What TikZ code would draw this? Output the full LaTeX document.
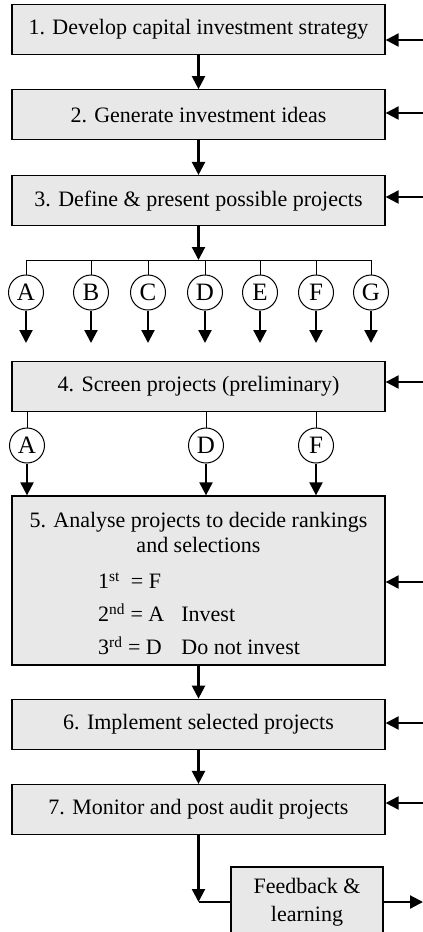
\documentclass[tikz,border=0pt]{standalone}
\usepackage{fontspec}
\setmainfont{Liberation Serif}
\usetikzlibrary{arrows.meta, positioning}
\definecolor{boxgray}{RGB}{232,232,232}
\newcommand{\chartfont}{\fontsize{22}{25}\selectfont}
\tikzset{
    stepbox/.style={rectangle, draw, line width=1.3pt, fill=boxgray, minimum width=373pt, minimum height=50pt, align=center, font=\chartfont},
    project/.style={circle, draw, line width=1pt, fill=white, minimum size=35pt, inner sep=0pt, font=\fontsize{25}{25}\selectfont},
    flow/.style={line width=2.2pt, -{Triangle[length=13pt, width=13pt]}},
    link/.style={line width=1pt}
}

\begin{document}
\begin{tikzpicture}[x=1pt, y=-1pt, node distance=34pt]
    \useasboundingbox (0,0) rectangle (423,932);
    \clip (0,0) rectangle (423,932);

    \node[stepbox] (s1) at (198.5,29.5) {1. Develop capital investment strategy};
    \node[stepbox, below=of s1] (s2) {2. Generate investment ideas};
    \node[stepbox, below=34.5pt of s2] (s3) {3. Define \& present possible projects};
    \node[stepbox] (s4) at (198.5,386.5) {4. Screen projects (preliminary)};
    \node[stepbox, minimum height=169pt] (s5) at (198.5,580.5) {};
    \node[font=\chartfont, align=center] (s5title) at (198.5,532) {5. Analyse projects to decide rankings\\and selections};
    \node[anchor=west, font=\fontsize{22}{24}\selectfont, inner sep=0pt] (ranking) at (98,615)
        {\renewcommand{\arraystretch}{1.375}%
         \begin{tabular}{@{}l@{\hspace{17pt}}l@{}}
         1\textsuperscript{st}\ \ = F & \\
         2\textsuperscript{nd} = A & Invest\\
         3\textsuperscript{rd} = D & Do not invest
         \end{tabular}};
    \node[stepbox, below=33pt of s5] (s6) {6. Implement selected projects};
    \node[stepbox, below=of s6] (s7) {7. Monitor and post audit projects};
    \node[stepbox, minimum width=152pt, minimum height=70pt, font=\fontsize{22}{28}\selectfont] (fb) at (307,902) {Feedback \&\\learning};

    % main flow
    \draw[flow] (s1) -- (s2);
    \draw[flow] (s2) -- (s3);
    \draw[flow] (s5) -- (s6);
    \draw[flow] (s6) -- (s7);

    % possible projects
    \coordinate (bus) at (198.5,260);
    \draw[flow] (s3) -- (bus);
    \foreach \n/\x in {A/26,B/91,C/148,D/205,E/260,F/316,G/371} {
        \node[project] (p\n) at (\x,292.5) {\n};
        \coordinate (t\n) at (\x,343);
        \draw[link] (\x,260) -- (p\n);
        \draw[flow] (p\n) -- (t\n);
    }
    \draw[link] (pA |- bus) -- (pG |- bus);

    % screened projects
    \foreach \n/\x in {A/27,D/206,F/316} {
        \node[project] (q\n) at (\x,445.5) {\n};
        \draw[link] (q\n |- s4.south) -- (q\n);
        \draw[flow] (q\n) -- (q\n |- s5.north);
    }

    % feedback loop
    \coordinate (corner) at (s7.south |- fb.west);
    \draw[flow] (s7) -- (corner);
    \draw[line width=1.3pt] (corner) -- (fb);
    \coordinate (out) at (423,902);
    \draw[flow] (fb) -- (out);

    % incoming feedback
    \foreach \s/\y in {s1/40,s2/113,s3/197,s4/382,s5/582,s6/723,s7/803} {
        \coordinate (in\s) at (423,\y);
        \draw[flow] (in\s) -- (in\s -| \s.east);
    }
\end{tikzpicture}
\end{document}
